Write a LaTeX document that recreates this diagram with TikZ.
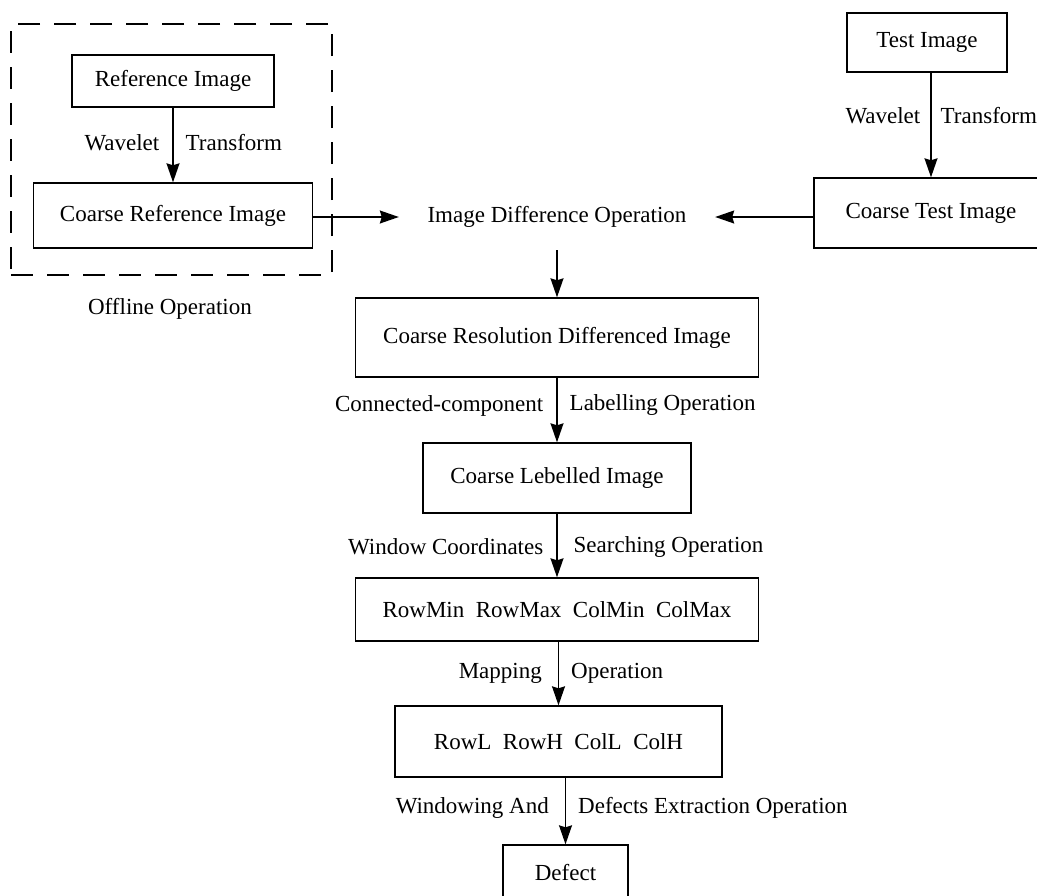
\documentclass[tikz,border=0pt]{standalone}
\usepackage{fontspec}
\setmainfont{Liberation Serif}
\usetikzlibrary{arrows.meta}
\begin{document}
\begin{tikzpicture}[x=1pt,y=-1pt,
  font=\fontsize{23}{27}\selectfont,
  box/.style={draw, line width=1.4pt, inner sep=0pt},
  frame/.style={draw, line width=1.4pt, dash pattern=on 22pt off 14pt, inner sep=0pt},
  arr/.style={line width=1.4pt, -{Stealth[length=19pt,width=13pt,inset=2pt]}},
  lblL/.style={anchor=east, inner sep=0pt, xshift=-13pt},
  lblR/.style={anchor=west, inner sep=0pt, xshift=12pt}]
\clip (0,0) rectangle (1037,895);
\fill[white] (0,0) rectangle (1037,895);

% offline part
\node[frame, minimum width=321pt, minimum height=251pt] (offline) at (171.5,149.5) {};
\node[box, minimum width=202pt, minimum height=52pt] (ref) at (173,81) {Reference Image};
\node[box, minimum width=279pt, minimum height=65pt] (cref) at (173,215.5) {Coarse Reference Image};
\node[inner sep=0pt] (offlinelbl) at (170,309) {Offline Operation};

% test branch
\node[box, minimum width=160pt, minimum height=59pt] (test) at (927,42.5) {Test Image};
\node[box, minimum width=234pt, minimum height=70pt] (ctest) at (931,213) {Coarse Test Image};

% main column
\node[inner sep=0pt, minimum width=316pt, minimum height=66pt] (diff) at (557,217) {Image Difference Operation};
\node[box, minimum width=403pt, minimum height=79pt] (cres) at (557,337.5) {Coarse Resolution Differenced Image};
\node[box, minimum width=268pt, minimum height=70pt] (lab) at (557,478) {Coarse Lebelled Image};
\node[box, minimum width=403pt, minimum height=63pt] (rmm) at (557,609.5) {RowMin~~RowMax~~ColMin~~ColMax};
\node[box, minimum width=327pt, minimum height=71pt] (rl) at (558.5,741.5) {RowL~~RowH~~ColL~~ColH};
\node[box, minimum width=125pt, minimum height=56pt] (defect) at (565.5,873) {Defect};

% connectors
\draw[arr] (ref.south) -- (cref.north)
  node[lblL, pos=.47] (l1a) {Wavelet}
  node[lblR, pos=.47] (l1b) {Transform};
\draw[arr] (ctest.north |- test.south) -- (ctest.north)
  node[lblL, pos=.41, xshift=3pt] (l2a) {Wavelet}
  node[lblR, pos=.41, xshift=-3pt] (l2b) {Transform};
\draw[arr] (cref.east |- diff.west) -- (diff.west);
\draw[arr] (ctest.west |- diff.east) -- (diff.east);
\draw[arr] (diff.south) -- (cres.north);
\draw[arr] (cres.south) -- (lab.north)
  node[lblL, pos=.43] (l3a) {Connected-component}
  node[lblR, pos=.43] (l3b) {Labelling Operation};
\draw[arr] (lab.south) -- (rmm.north)
  node[lblL, pos=.52] (l4a) {Window Coordinates}
  node[lblR, pos=.52, xshift=4pt] (l4b) {Searching Operation};
\draw[arr] (rl.north |- rmm.south) -- (rl.north)
  node[lblL, pos=.49, xshift=-3pt] (l5a) {Mapping}
  node[lblR, pos=.49] (l5b) {Operation};
\draw[arr] (defect.north |- rl.south) -- (defect.north)
  node[lblL, pos=.46, xshift=-3pt] (l6a) {Windowing And}
  node[lblR, pos=.46] (l6b) {Defects Extraction Operation};
\end{tikzpicture}
\end{document}
